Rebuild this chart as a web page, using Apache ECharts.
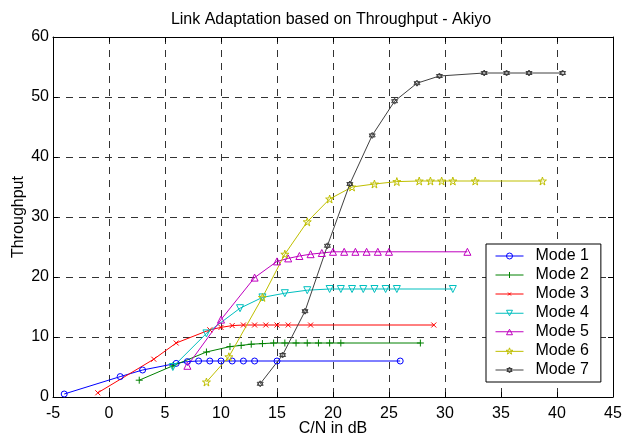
<!DOCTYPE html>
<html>
<head>
<meta charset="utf-8">
<script src="https://cdn.jsdelivr.net/npm/echarts@6/dist/echarts.min.js"></script>
<style>
  html, body { margin: 0; padding: 0; background: #fff; }
  #chart { width: 629px; height: 434px; }
</style>
</head>
<body>
<div id="chart"></div>
<script>
// values
var modeNames = ['Mode 1', 'Mode 2', 'Mode 3', 'Mode 4', 'Mode 5', 'Mode 6', 'Mode 7'];

var mode1X = [-4, 1, 3, 6, 7, 8, 9, 10, 11, 12, 13, 15, 26];
var mode1Y = [0.5, 3.4, 4.5, 5.6, 5.9, 6, 6, 6, 6, 6, 6, 6, 6];

var mode2X = [2.7, 5.7, 8.7, 10.8, 11.8, 12.7, 13.7, 14.7, 15.7, 16.7, 17.7, 18.7, 19.7, 20.7, 27.8];
var mode2Y = [2.8, 5.2, 7.5, 8.4, 8.6, 8.8, 8.9, 9, 9, 9, 9, 9, 9, 9, 9];

var mode3X = [-1, 4, 6, 9, 10, 11, 12, 13, 14, 15, 16, 18, 29];
var mode3Y = [0.7, 6.3, 9, 11.2, 11.6, 11.9, 12, 12, 12, 12, 12, 12, 12];

var mode4X = [5.7, 8.7, 11.7, 13.7, 15.7, 17.7, 19.7, 20.7, 21.7, 22.7, 23.7, 24.7, 25.7, 30.7];
var mode4Y = [5, 10.6, 14.8, 16.6, 17.3, 17.8, 18, 18, 18, 18, 18, 18, 18, 18];

var mode5X = [7, 10, 13, 15, 16, 17, 18, 19, 20, 21, 22, 23, 24, 25, 32];
var mode5Y = [5.2, 12.9, 19.9, 22.6, 23.1, 23.5, 23.8, 24, 24.2, 24.2, 24.2, 24.2, 24.2, 24.2, 24.2];

var mode6X = [8.7, 10.7, 13.7, 15.7, 17.7, 19.7, 21.7, 23.7, 25.7, 27.7, 28.7, 29.7, 30.7, 32.7, 38.7];
var mode6Y = [2.5, 6.7, 16.6, 23.8, 29.2, 33, 35, 35.5, 35.9, 36, 36, 36, 36, 36, 36];

var mode7X = [13.5, 15.5, 17.5, 19.5, 21.5, 23.5, 25.5, 27.5, 29.5, 33.5, 35.5, 37.5, 40.5];
var mode7Y = [2.2, 7, 14.3, 25.2, 35.5, 43.6, 49.3, 52.3, 53.5, 54, 54, 54, 54];

var xTicks = { min: -5, max: 45, interval: 5 };
var yTicks = { min: 0, max: 60, interval: 10 };

(function() {
  var font = 'Liberation Sans, Arial, sans-serif';
  var colors = ['#0000ff', '#008000', '#ff0000', '#00bfbf', '#bf00bf', '#bfbf00', '#404040'];
  var xs = [mode1X, mode2X, mode3X, mode4X, mode5X, mode6X, mode7X];
  var ys = [mode1Y, mode2Y, mode3Y, mode4Y, mode5Y, mode6Y, mode7Y];

  // marker shapes, outline only like matlab
  var symbols = [
    'circle',
    'path://M0,5L10,5M5,0L5,10',
    'path://M0,0L10,10M10,0L0,10',
    'path://M0,0L10,0L5,9Z',
    'path://M5,0L10,9L0,9Z',
    'path://M5,0L6.12,3.46L9.76,3.45L6.82,5.59L7.94,9.05L5,6.91L2.06,9.05L3.18,5.59L0.24,3.45L3.88,3.46Z',
    'path://M5,0L9.33,7.5L0.67,7.5ZM5,10L0.67,2.5L9.33,2.5Z'
  ];
  var sizes = [6, 7, 5, 7, 7, 8, 6];

  // legend icons: short line with the marker in the middle (28 x 8 box)
  var legendIcons = [
    'path://M0,4L28,4M17,4A3,3,0,1,1,11,4A3,3,0,1,1,17,4',
    'path://M0,4L28,4M14,1L14,7',
    'path://M0,4L28,4M12.5,2.5L15.5,5.5M15.5,2.5L12.5,5.5',
    'path://M0,4L28,4M11,1L17,1L14,6.5Z',
    'path://M0,4L28,4M14,1.5L17,7L11,7Z',
    'path://M0,4L28,4M14,0.5L14.8,2.9L17.3,2.9L15.3,4.4L16.1,6.8L14,5.3L11.9,6.8L12.7,4.4L10.7,2.9L13.2,2.9Z',
    'path://M0,4L28,4M14,1L16.6,5.5L11.4,5.5ZM14,7L11.4,2.5L16.6,2.5Z'
  ];

  var el = document.getElementById('chart');
  var chart = echarts.init(el);

  var series = modeNames.map(function(name, i) {
    return {
      name: name,
      type: 'line',
      data: xs[i].map(function(x, j) { return [x, ys[i][j]]; }),
      symbol: symbols[i],
      symbolSize: sizes[i],
      showAllSymbol: true,
      lineStyle: { color: colors[i], width: 1 },
      itemStyle: { color: 'rgba(0,0,0,0)', borderColor: colors[i], borderWidth: 1 },
      emphasis: { disabled: true }
    };
  });

  var axisLine = { show: true, onZero: false, lineStyle: { color: '#000', width: 1 } };
  var tick = { show: true, inside: true, length: 5, lineStyle: { color: '#000' } };
  var label = { color: '#000', fontSize: 16, fontFamily: font };

  chart.setOption({
    animation: false,
    backgroundColor: '#fff',
    title: {
      text: 'Link Adaptation based on Throughput - Akiyo',
      left: 331,
      top: 12,
      padding: 0,
      textAlign: 'center',
      textStyle: { color: '#000', fontSize: 16, fontWeight: 'normal', fontFamily: font }
    },
    grid: { left: 53, right: 16, top: 37, bottom: 37, containLabel: false, outerBoundsMode: 'none' },
    legend: {
      data: modeNames.map(function(n, i) { return { name: n, icon: legendIcons[i] }; }),
      orient: 'vertical',
      left: 486,
      top: 244,
      backgroundColor: '#fff',
      borderColor: '#000',
      borderWidth: 1,
      padding: [4, 12, 4, 9],
      itemWidth: 28,
      itemHeight: 8,
      itemGap: 3,
      itemStyle: { borderWidth: 1 },
      textStyle: { color: '#000', fontSize: 16, fontFamily: font, padding: [0, 0, 0, 7] }
    },
    xAxis: [{
      type: 'value',
      min: xTicks.min, max: xTicks.max, interval: xTicks.interval,
      position: 'bottom',
      axisLine: axisLine,
      axisTick: tick,
      axisLabel: Object.assign({ margin: 9 }, label),
      splitLine: { show: true, lineStyle: { color: '#333', width: 1, type: [7, 6] } },
      name: 'C/N in dB',
      nameLocation: 'middle',
      nameGap: 24,
      nameMoveOverlap: false,
      nameTextStyle: label
    }, {
      type: 'value',
      min: xTicks.min, max: xTicks.max, interval: xTicks.interval,
      position: 'top',
      axisLine: axisLine,
      axisTick: tick,
      axisLabel: { show: false },
      splitLine: { show: false }
    }],
    yAxis: [{
      type: 'value',
      min: yTicks.min, max: yTicks.max, interval: yTicks.interval,
      position: 'left',
      axisLine: axisLine,
      axisTick: tick,
      axisLabel: Object.assign({ margin: 4 }, label),
      splitLine: { show: true, lineStyle: { color: '#333', width: 1, type: [7, 6] } },
      name: 'Throughput',
      nameLocation: 'middle',
      nameGap: 26,
      nameMoveOverlap: false,
      nameTextStyle: label
    }, {
      type: 'value',
      min: yTicks.min, max: yTicks.max, interval: yTicks.interval,
      position: 'right',
      axisLine: axisLine,
      axisTick: tick,
      axisLabel: { show: false },
      splitLine: { show: false }
    }],
    series: series
  });
  window.addEventListener('resize', function() { chart.resize(); });
})();
</script>
</body>
</html>
